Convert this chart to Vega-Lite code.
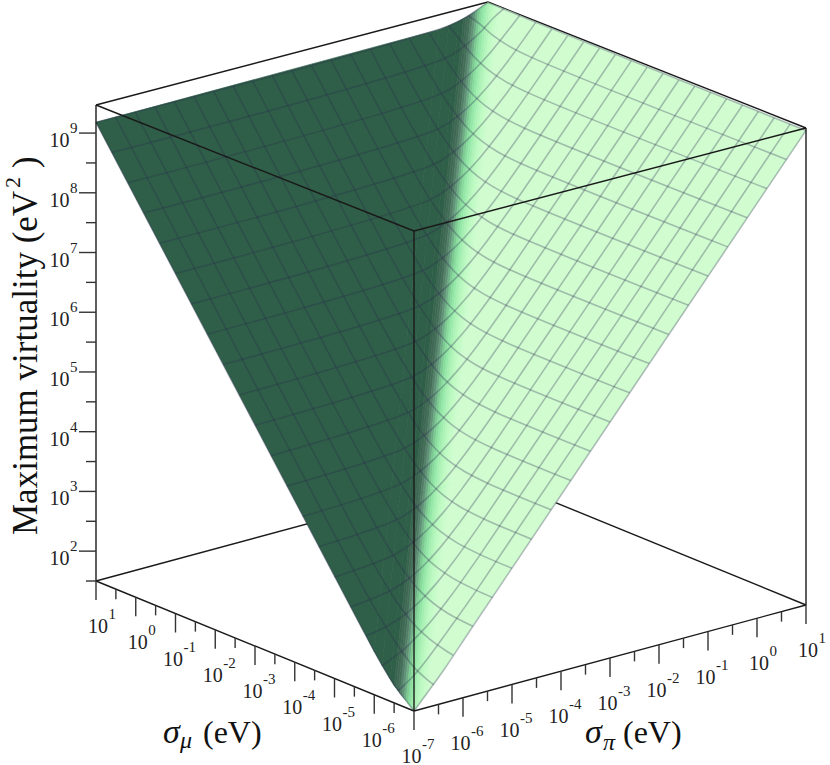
{"$schema":"https://vega.github.io/schema/vega-lite/v6.json","width":830,"height":765,"padding":0,"autosize":"none","background":"white","config":{"view":{"stroke":null}},
"data":{"values":[
{"set":"bb","id":1,"i":0,"mu":1,"pi":-7,"v":1.5},{"set":"bb","id":1,"i":1,"mu":1,"pi":1,"v":1.5},
{"set":"bb","id":2,"i":0,"mu":-7,"pi":1,"v":1.5},{"set":"bb","id":2,"i":1,"mu":1,"pi":1,"v":1.5},
{"set":"bb","id":3,"i":0,"mu":1,"pi":-7,"v":9.47},{"set":"bb","id":3,"i":1,"mu":1,"pi":1,"v":9.47},
{"set":"bb","id":4,"i":0,"mu":-7,"pi":1,"v":9.47},{"set":"bb","id":4,"i":1,"mu":1,"pi":1,"v":9.47},
{"set":"bf","id":1,"i":0,"mu":-7,"pi":-7,"v":1.5},{"set":"bf","id":1,"i":1,"mu":1,"pi":-7,"v":1.5},
{"set":"bf","id":2,"i":0,"mu":-7,"pi":-7,"v":1.5},{"set":"bf","id":2,"i":1,"mu":-7,"pi":1,"v":1.5},
{"set":"bf","id":3,"i":0,"mu":-7,"pi":-7,"v":1.5},{"set":"bf","id":3,"i":1,"mu":-7,"pi":-7,"v":9.47},
{"set":"bf","id":4,"i":0,"mu":1,"pi":-7,"v":1.5},{"set":"bf","id":4,"i":1,"mu":1,"pi":-7,"v":9.47},
{"set":"bf","id":5,"i":0,"mu":-7,"pi":1,"v":1.5},{"set":"bf","id":5,"i":1,"mu":-7,"pi":1,"v":9.47},
{"set":"bf","id":6,"i":0,"mu":-7,"pi":-7,"v":9.47},{"set":"bf","id":6,"i":1,"mu":1,"pi":-7,"v":9.47},
{"set":"bf","id":7,"i":0,"mu":-7,"pi":-7,"v":9.47},{"set":"bf","id":7,"i":1,"mu":-7,"pi":1,"v":9.47},

{"set":"b","d":2,"i":0,"mu":-6,"pi":-7,"v":2.22},{"set":"b","d":2,"i":1,"mu":1,"pi":-7,"v":9.18},{"set":"b","d":2,"i":2,"mu":1,"pi":0,"v":9.2214},
{"set":"b","d":0.9,"i":0,"mu":-6,"pi":-7,"v":2.22},{"set":"b","d":0.9,"i":1,"mu":-6.2,"pi":-7,"v":2.04},{"set":"b","d":0.9,"i":2,"mu":1,"pi":0.2,"v":9.2439},{"set":"b","d":0.9,"i":3,"mu":1,"pi":0,"v":9.2214},
{"set":"b","d":0.7,"i":0,"mu":-6.2,"pi":-7,"v":2.04},{"set":"b","d":0.7,"i":1,"mu":-6.4,"pi":-7,"v":1.87},{"set":"b","d":0.7,"i":2,"mu":1,"pi":0.4,"v":9.2773},{"set":"b","d":0.7,"i":3,"mu":1,"pi":0.2,"v":9.2439},
{"set":"b","d":0.55,"i":0,"mu":-6.4,"pi":-7,"v":1.87},{"set":"b","d":0.55,"i":1,"mu":-6.5,"pi":-7,"v":1.79},{"set":"b","d":0.55,"i":2,"mu":1,"pi":0.5,"v":9.2993},{"set":"b","d":0.55,"i":3,"mu":1,"pi":0.4,"v":9.2773},
{"set":"b","d":0.475,"i":0,"mu":-6.5,"pi":-7,"v":1.79},{"set":"b","d":0.475,"i":1,"mu":-6.55,"pi":-7,"v":1.76},{"set":"b","d":0.475,"i":2,"mu":1,"pi":0.55,"v":9.3119},{"set":"b","d":0.475,"i":3,"mu":1,"pi":0.5,"v":9.2993},
{"set":"b","d":0.425,"i":0,"mu":-6.55,"pi":-7,"v":1.76},{"set":"b","d":0.425,"i":1,"mu":-6.6,"pi":-7,"v":1.73},{"set":"b","d":0.425,"i":2,"mu":1,"pi":0.6,"v":9.3255},{"set":"b","d":0.425,"i":3,"mu":1,"pi":0.55,"v":9.3119},
{"set":"b","d":0.375,"i":0,"mu":-6.6,"pi":-7,"v":1.73},{"set":"b","d":0.375,"i":1,"mu":-6.65,"pi":-7,"v":1.7},{"set":"b","d":0.375,"i":2,"mu":1,"pi":0.65,"v":9.3404},{"set":"b","d":0.375,"i":3,"mu":1,"pi":0.6,"v":9.3255},
{"set":"b","d":0.325,"i":0,"mu":-6.65,"pi":-7,"v":1.7},{"set":"b","d":0.325,"i":1,"mu":-6.7,"pi":-7,"v":1.67},{"set":"b","d":0.325,"i":2,"mu":1,"pi":0.7,"v":9.3564},{"set":"b","d":0.325,"i":3,"mu":1,"pi":0.65,"v":9.3404},
{"set":"b","d":0.275,"i":0,"mu":-6.7,"pi":-7,"v":1.67},{"set":"b","d":0.275,"i":1,"mu":-6.75,"pi":-7,"v":1.645},{"set":"b","d":0.275,"i":2,"mu":1,"pi":0.75,"v":9.3738},{"set":"b","d":0.275,"i":3,"mu":1,"pi":0.7,"v":9.3564},
{"set":"b","d":0.225,"i":0,"mu":-6.75,"pi":-7,"v":1.645},{"set":"b","d":0.225,"i":1,"mu":-6.8,"pi":-7,"v":1.62},{"set":"b","d":0.225,"i":2,"mu":1,"pi":0.8,"v":9.3924},{"set":"b","d":0.225,"i":3,"mu":1,"pi":0.75,"v":9.3738},
{"set":"b","d":0.175,"i":0,"mu":-6.8,"pi":-7,"v":1.62},{"set":"b","d":0.175,"i":1,"mu":-6.85,"pi":-7,"v":1.59},{"set":"b","d":0.175,"i":2,"mu":1,"pi":0.85,"v":9.4125},{"set":"b","d":0.175,"i":3,"mu":1,"pi":0.8,"v":9.3924},
{"set":"b","d":0.125,"i":0,"mu":-6.85,"pi":-7,"v":1.59},{"set":"b","d":0.125,"i":1,"mu":-6.9,"pi":-7,"v":1.56},{"set":"b","d":0.125,"i":2,"mu":1,"pi":0.9,"v":9.4339},{"set":"b","d":0.125,"i":3,"mu":1,"pi":0.85,"v":9.4125},
{"set":"b","d":0.075,"i":0,"mu":-6.9,"pi":-7,"v":1.56},{"set":"b","d":0.075,"i":1,"mu":-6.95,"pi":-7,"v":1.53},{"set":"b","d":0.075,"i":2,"mu":1,"pi":0.95,"v":9.442},{"set":"b","d":0.075,"i":3,"mu":1,"pi":0.9,"v":9.4339},
{"set":"b","d":0.025,"i":0,"mu":-6.95,"pi":-7,"v":1.53},{"set":"b","d":0.025,"i":1,"mu":-7,"pi":-7,"v":1.5},{"set":"b","d":0.025,"i":2,"mu":1,"pi":1,"v":9.46},{"set":"b","d":0.025,"i":3,"mu":1,"pi":0.95,"v":9.442},
{"set":"b","d":-0.025,"i":0,"mu":-7,"pi":-7,"v":1.5},{"set":"b","d":-0.025,"i":1,"mu":-7,"pi":-6.95,"v":1.55},{"set":"b","d":-0.025,"i":2,"mu":0.95,"pi":1,"v":9.46},{"set":"b","d":-0.025,"i":3,"mu":1,"pi":1,"v":9.46},
{"set":"b","d":-0.075,"i":0,"mu":-7,"pi":-6.95,"v":1.55},{"set":"b","d":-0.075,"i":1,"mu":-7,"pi":-6.9,"v":1.59},{"set":"b","d":-0.075,"i":2,"mu":0.9,"pi":1,"v":9.46},{"set":"b","d":-0.075,"i":3,"mu":0.95,"pi":1,"v":9.46},
{"set":"b","d":-0.125,"i":0,"mu":-7,"pi":-6.9,"v":1.59},{"set":"b","d":-0.125,"i":1,"mu":-7,"pi":-6.85,"v":1.63},{"set":"b","d":-0.125,"i":2,"mu":0.85,"pi":1,"v":9.46},{"set":"b","d":-0.125,"i":3,"mu":0.9,"pi":1,"v":9.46},
{"set":"b","d":-0.175,"i":0,"mu":-7,"pi":-6.85,"v":1.63},{"set":"b","d":-0.175,"i":1,"mu":-7,"pi":-6.8,"v":1.68},{"set":"b","d":-0.175,"i":2,"mu":0.8,"pi":1,"v":9.46},{"set":"b","d":-0.175,"i":3,"mu":0.85,"pi":1,"v":9.46},
{"set":"b","d":-0.225,"i":0,"mu":-7,"pi":-6.8,"v":1.68},{"set":"b","d":-0.225,"i":1,"mu":-7,"pi":-6.75,"v":1.72},{"set":"b","d":-0.225,"i":2,"mu":0.75,"pi":1,"v":9.46},{"set":"b","d":-0.225,"i":3,"mu":0.8,"pi":1,"v":9.46},
{"set":"b","d":-0.275,"i":0,"mu":-7,"pi":-6.75,"v":1.72},{"set":"b","d":-0.275,"i":1,"mu":-7,"pi":-6.7,"v":1.77},{"set":"b","d":-0.275,"i":2,"mu":0.7,"pi":1,"v":9.46},{"set":"b","d":-0.275,"i":3,"mu":0.75,"pi":1,"v":9.46},
{"set":"b","d":-0.35,"i":0,"mu":-7,"pi":-6.7,"v":1.77},{"set":"b","d":-0.35,"i":1,"mu":-7,"pi":-6.6,"v":1.85},{"set":"b","d":-0.35,"i":2,"mu":0.6,"pi":1,"v":9.46},{"set":"b","d":-0.35,"i":3,"mu":0.7,"pi":1,"v":9.46},
{"set":"b","d":-0.5,"i":0,"mu":-7,"pi":-6.6,"v":1.85},{"set":"b","d":-0.5,"i":1,"mu":-7,"pi":-6.4,"v":2.04},{"set":"b","d":-0.5,"i":2,"mu":0.4,"pi":1,"v":9.46},{"set":"b","d":-0.5,"i":3,"mu":0.6,"pi":1,"v":9.46},
{"set":"b","d":-0.8,"i":0,"mu":-7,"pi":-6.4,"v":2.04},{"set":"b","d":-0.8,"i":1,"mu":-7,"pi":-6,"v":2.45},{"set":"b","d":-0.8,"i":2,"mu":0,"pi":1,"v":9.45},{"set":"b","d":-0.8,"i":3,"mu":0.4,"pi":1,"v":9.46},
{"set":"b","d":-2,"i":0,"mu":-7,"pi":-6,"v":2.45},{"set":"b","d":-2,"i":1,"mu":-7,"pi":1,"v":9.43},{"set":"b","d":-2,"i":2,"mu":0,"pi":1,"v":9.45},

{"set":"g","mu":-7,"pi":-7,"v":1.5},{"set":"g","mu":-7,"pi":-6.8,"v":1.68},{"set":"g","mu":-7,"pi":-6.4,"v":2.04},{"set":"g","mu":-7,"pi":-5.8,"v":2.64},{"set":"g","mu":-7,"pi":1,"v":9.43},
{"set":"g","mu":-6.6,"pi":-7,"v":1.73},{"set":"g","mu":-6.6,"pi":-6.7,"v":1.9},{"set":"g","mu":-6.6,"pi":-6.4,"v":2.13},{"set":"g","mu":-6.6,"pi":-6,"v":2.4874},{"set":"g","mu":-6.6,"pi":-5.4,"v":3.0451},{"set":"g","mu":-6.6,"pi":1,"v":9.43},
{"set":"g","mu":-6.2,"pi":-7,"v":2.04},{"set":"g","mu":-6.2,"pi":-6.6,"v":2.19},{"set":"g","mu":-6.2,"pi":-6.3,"v":2.3625},{"set":"g","mu":-6.2,"pi":-6,"v":2.5619},{"set":"g","mu":-6.2,"pi":-5.6,"v":2.8874},{"set":"g","mu":-6.2,"pi":-5,"v":3.4451},{"set":"g","mu":-6.2,"pi":1,"v":9.43},
{"set":"g","mu":-5.8,"pi":-7,"v":2.4262},{"set":"g","mu":-5.8,"pi":-6.6,"v":2.4878},{"set":"g","mu":-5.8,"pi":-6.2,"v":2.6125},{"set":"g","mu":-5.8,"pi":-5.9,"v":2.7625},{"set":"g","mu":-5.8,"pi":-5.6,"v":2.9619},{"set":"g","mu":-5.8,"pi":-5.2,"v":3.2874},{"set":"g","mu":-5.8,"pi":-4.6,"v":3.8451},{"set":"g","mu":-5.8,"pi":1,"v":9.43},
{"set":"g","mu":-5.4,"pi":-7,"v":2.799},{"set":"g","mu":-5.4,"pi":-6.2,"v":2.8878},{"set":"g","mu":-5.4,"pi":-5.8,"v":3.0125},{"set":"g","mu":-5.4,"pi":-5.5,"v":3.1625},{"set":"g","mu":-5.4,"pi":-5.2,"v":3.3619},{"set":"g","mu":-5.4,"pi":-4.8,"v":3.6874},{"set":"g","mu":-5.4,"pi":-4.2,"v":4.2451},{"set":"g","mu":-5.4,"pi":1,"v":9.43},
{"set":"g","mu":-5,"pi":-7,"v":3.1876},{"set":"g","mu":-5,"pi":-5.8,"v":3.2878},{"set":"g","mu":-5,"pi":-5.4,"v":3.4125},{"set":"g","mu":-5,"pi":-5.1,"v":3.5625},{"set":"g","mu":-5,"pi":-4.8,"v":3.7619},{"set":"g","mu":-5,"pi":-4.4,"v":4.0874},{"set":"g","mu":-5,"pi":-3.8,"v":4.6451},{"set":"g","mu":-5,"pi":1,"v":9.43},
{"set":"g","mu":-4.6,"pi":-7,"v":3.5831},{"set":"g","mu":-4.6,"pi":-5.4,"v":3.6878},{"set":"g","mu":-4.6,"pi":-5,"v":3.8125},{"set":"g","mu":-4.6,"pi":-4.7,"v":3.9625},{"set":"g","mu":-4.6,"pi":-4.4,"v":4.1619},{"set":"g","mu":-4.6,"pi":-4,"v":4.4874},{"set":"g","mu":-4.6,"pi":-3.4,"v":5.0451},{"set":"g","mu":-4.6,"pi":1,"v":9.43},
{"set":"g","mu":-4.2,"pi":-7,"v":3.9812},{"set":"g","mu":-4.2,"pi":-5,"v":4.0878},{"set":"g","mu":-4.2,"pi":-4.6,"v":4.2125},{"set":"g","mu":-4.2,"pi":-4.3,"v":4.3625},{"set":"g","mu":-4.2,"pi":-4,"v":4.5619},{"set":"g","mu":-4.2,"pi":-3.6,"v":4.8874},{"set":"g","mu":-4.2,"pi":-3,"v":5.4451},{"set":"g","mu":-4.2,"pi":1,"v":9.43},
{"set":"g","mu":-3.8,"pi":-7,"v":4.38},{"set":"g","mu":-3.8,"pi":-4.6,"v":4.4878},{"set":"g","mu":-3.8,"pi":-4.2,"v":4.6125},{"set":"g","mu":-3.8,"pi":-3.9,"v":4.7625},{"set":"g","mu":-3.8,"pi":-3.6,"v":4.9619},{"set":"g","mu":-3.8,"pi":-3.2,"v":5.2874},{"set":"g","mu":-3.8,"pi":-2.6,"v":5.8451},{"set":"g","mu":-3.8,"pi":1,"v":9.43},
{"set":"g","mu":-3.4,"pi":-7,"v":4.78},{"set":"g","mu":-3.4,"pi":-4.2,"v":4.8878},{"set":"g","mu":-3.4,"pi":-3.8,"v":5.0125},{"set":"g","mu":-3.4,"pi":-3.5,"v":5.1625},{"set":"g","mu":-3.4,"pi":-3.2,"v":5.3619},{"set":"g","mu":-3.4,"pi":-2.8,"v":5.6874},{"set":"g","mu":-3.4,"pi":-2.2,"v":6.2451},{"set":"g","mu":-3.4,"pi":1,"v":9.43},
{"set":"g","mu":-3,"pi":-7,"v":5.18},{"set":"g","mu":-3,"pi":-3.8,"v":5.2878},{"set":"g","mu":-3,"pi":-3.4,"v":5.4125},{"set":"g","mu":-3,"pi":-3.1,"v":5.5625},{"set":"g","mu":-3,"pi":-2.8,"v":5.7619},{"set":"g","mu":-3,"pi":-2.4,"v":6.0874},{"set":"g","mu":-3,"pi":-1.8,"v":6.6451},{"set":"g","mu":-3,"pi":1,"v":9.43},
{"set":"g","mu":-2.6,"pi":-7,"v":5.58},{"set":"g","mu":-2.6,"pi":-3.4,"v":5.6878},{"set":"g","mu":-2.6,"pi":-3,"v":5.8125},{"set":"g","mu":-2.6,"pi":-2.7,"v":5.9625},{"set":"g","mu":-2.6,"pi":-2.4,"v":6.1619},{"set":"g","mu":-2.6,"pi":-2,"v":6.4874},{"set":"g","mu":-2.6,"pi":-1.4,"v":7.0451},{"set":"g","mu":-2.6,"pi":1,"v":9.43},
{"set":"g","mu":-2.2,"pi":-7,"v":5.98},{"set":"g","mu":-2.2,"pi":-3,"v":6.0878},{"set":"g","mu":-2.2,"pi":-2.6,"v":6.2125},{"set":"g","mu":-2.2,"pi":-2.3,"v":6.3625},{"set":"g","mu":-2.2,"pi":-2,"v":6.5619},{"set":"g","mu":-2.2,"pi":-1.6,"v":6.8874},{"set":"g","mu":-2.2,"pi":-1,"v":7.4451},{"set":"g","mu":-2.2,"pi":1,"v":9.43},
{"set":"g","mu":-1.8,"pi":-7,"v":6.38},{"set":"g","mu":-1.8,"pi":-2.6,"v":6.4878},{"set":"g","mu":-1.8,"pi":-2.2,"v":6.6125},{"set":"g","mu":-1.8,"pi":-1.9,"v":6.7625},{"set":"g","mu":-1.8,"pi":-1.6,"v":6.9619},{"set":"g","mu":-1.8,"pi":-1.2,"v":7.2874},{"set":"g","mu":-1.8,"pi":-0.6,"v":7.8451},{"set":"g","mu":-1.8,"pi":1,"v":9.43},
{"set":"g","mu":-1.4,"pi":-7,"v":6.78},{"set":"g","mu":-1.4,"pi":-2.2,"v":6.8878},{"set":"g","mu":-1.4,"pi":-1.8,"v":7.0125},{"set":"g","mu":-1.4,"pi":-1.5,"v":7.1625},{"set":"g","mu":-1.4,"pi":-1.2,"v":7.3619},{"set":"g","mu":-1.4,"pi":-0.8,"v":7.6874},{"set":"g","mu":-1.4,"pi":-0.2,"v":8.2451},{"set":"g","mu":-1.4,"pi":1,"v":9.43},
{"set":"g","mu":-1,"pi":-7,"v":7.18},{"set":"g","mu":-1,"pi":-1.8,"v":7.2878},{"set":"g","mu":-1,"pi":-1.4,"v":7.4125},{"set":"g","mu":-1,"pi":-1.1,"v":7.5625},{"set":"g","mu":-1,"pi":-0.8,"v":7.7619},{"set":"g","mu":-1,"pi":-0.4,"v":8.0874},{"set":"g","mu":-1,"pi":0.2,"v":8.6451},{"set":"g","mu":-1,"pi":1,"v":9.43},
{"set":"g","mu":-0.6,"pi":-7,"v":7.58},{"set":"g","mu":-0.6,"pi":-1.4,"v":7.6878},{"set":"g","mu":-0.6,"pi":-1,"v":7.8125},{"set":"g","mu":-0.6,"pi":-0.7,"v":7.9625},{"set":"g","mu":-0.6,"pi":-0.4,"v":8.1619},{"set":"g","mu":-0.6,"pi":0,"v":8.4874},{"set":"g","mu":-0.6,"pi":0.6,"v":9.0451},{"set":"g","mu":-0.6,"pi":1,"v":9.436},
{"set":"g","mu":-0.2,"pi":-7,"v":7.98},{"set":"g","mu":-0.2,"pi":-1,"v":8.0878},{"set":"g","mu":-0.2,"pi":-0.6,"v":8.2125},{"set":"g","mu":-0.2,"pi":-0.3,"v":8.3625},{"set":"g","mu":-0.2,"pi":0,"v":8.5619},{"set":"g","mu":-0.2,"pi":0.4,"v":8.8874},{"set":"g","mu":-0.2,"pi":1,"v":9.445},
{"set":"g","mu":0.2,"pi":-7,"v":8.38},{"set":"g","mu":0.2,"pi":-0.6,"v":8.4878},{"set":"g","mu":0.2,"pi":-0.2,"v":8.6125},{"set":"g","mu":0.2,"pi":0.1,"v":8.7625},{"set":"g","mu":0.2,"pi":0.4,"v":8.9619},{"set":"g","mu":0.2,"pi":0.8,"v":9.2874},{"set":"g","mu":0.2,"pi":1,"v":9.46},
{"set":"g","mu":0.6,"pi":-7,"v":8.78},{"set":"g","mu":0.6,"pi":-0.2,"v":8.8878},{"set":"g","mu":0.6,"pi":0.2,"v":9.0125},{"set":"g","mu":0.6,"pi":0.5,"v":9.1625},{"set":"g","mu":0.6,"pi":0.8,"v":9.3619},{"set":"g","mu":0.6,"pi":1,"v":9.465},
{"set":"g","mu":1,"pi":-7,"v":9.18},{"set":"g","mu":1,"pi":0.2,"v":9.2439},{"set":"g","mu":1,"pi":0.6,"v":9.3255},{"set":"g","mu":1,"pi":0.85,"v":9.4125},{"set":"g","mu":1,"pi":1,"v":9.46},

{"set":"h","pi":-7,"mu":-7,"v":1.5},{"set":"h","pi":-7,"mu":-6.9,"v":1.56},{"set":"h","pi":-7,"mu":-6.6,"v":1.73},{"set":"h","pi":-7,"mu":-6.2,"v":2.04},{"set":"h","pi":-7,"mu":-5.6,"v":2.6097},{"set":"h","pi":-7,"mu":1,"v":9.18},
{"set":"h","pi":-6.6,"mu":-7,"v":1.85},{"set":"h","pi":-6.6,"mu":-6.8,"v":1.9},{"set":"h","pi":-6.6,"mu":-6.5,"v":2.01},{"set":"h","pi":-6.6,"mu":-6.2,"v":2.19},{"set":"h","pi":-6.6,"mu":-5.8,"v":2.4878},{"set":"h","pi":-6.6,"mu":-5.2,"v":3.0097},{"set":"h","pi":-6.6,"mu":1,"v":9.18},
{"set":"h","pi":-6.2,"mu":-7,"v":2.25},{"set":"h","pi":-6.2,"mu":-6.8,"v":2.28},{"set":"h","pi":-6.2,"mu":-6.4,"v":2.3619},{"set":"h","pi":-6.2,"mu":-6.1,"v":2.4625},{"set":"h","pi":-6.2,"mu":-5.8,"v":2.6125},{"set":"h","pi":-6.2,"mu":-5.4,"v":2.8878},{"set":"h","pi":-6.2,"mu":-4.8,"v":3.4097},{"set":"h","pi":-6.2,"mu":1,"v":9.18},
{"set":"h","pi":-5.8,"mu":-7,"v":2.6451},{"set":"h","pi":-5.8,"mu":-6.4,"v":2.6874},{"set":"h","pi":-5.8,"mu":-6,"v":2.7619},{"set":"h","pi":-5.8,"mu":-5.7,"v":2.8625},{"set":"h","pi":-5.8,"mu":-5.4,"v":3.0125},{"set":"h","pi":-5.8,"mu":-5,"v":3.2878},{"set":"h","pi":-5.8,"mu":-4.4,"v":3.8097},{"set":"h","pi":-5.8,"mu":1,"v":9.18},
{"set":"h","pi":-5.4,"mu":-7,"v":3.0361},{"set":"h","pi":-5.4,"mu":-6.6,"v":3.0451},{"set":"h","pi":-5.4,"mu":-6,"v":3.0874},{"set":"h","pi":-5.4,"mu":-5.6,"v":3.1619},{"set":"h","pi":-5.4,"mu":-5.3,"v":3.2625},{"set":"h","pi":-5.4,"mu":-5,"v":3.4125},{"set":"h","pi":-5.4,"mu":-4.6,"v":3.6878},{"set":"h","pi":-5.4,"mu":-4,"v":4.2097},{"set":"h","pi":-5.4,"mu":1,"v":9.18},
{"set":"h","pi":-5,"mu":-7,"v":3.4324},{"set":"h","pi":-5,"mu":-6.2,"v":3.4451},{"set":"h","pi":-5,"mu":-5.6,"v":3.4874},{"set":"h","pi":-5,"mu":-5.2,"v":3.5619},{"set":"h","pi":-5,"mu":-4.9,"v":3.6625},{"set":"h","pi":-5,"mu":-4.6,"v":3.8125},{"set":"h","pi":-5,"mu":-4.2,"v":4.0878},{"set":"h","pi":-5,"mu":-3.6,"v":4.6097},{"set":"h","pi":-5,"mu":1,"v":9.18},
{"set":"h","pi":-4.6,"mu":-7,"v":3.83},{"set":"h","pi":-4.6,"mu":-5.8,"v":3.8451},{"set":"h","pi":-4.6,"mu":-5.2,"v":3.8874},{"set":"h","pi":-4.6,"mu":-4.8,"v":3.9619},{"set":"h","pi":-4.6,"mu":-4.5,"v":4.0625},{"set":"h","pi":-4.6,"mu":-4.2,"v":4.2125},{"set":"h","pi":-4.6,"mu":-3.8,"v":4.4878},{"set":"h","pi":-4.6,"mu":-3.2,"v":5.0097},{"set":"h","pi":-4.6,"mu":1,"v":9.18},
{"set":"h","pi":-4.2,"mu":-7,"v":4.23},{"set":"h","pi":-4.2,"mu":-5.4,"v":4.2451},{"set":"h","pi":-4.2,"mu":-4.8,"v":4.2874},{"set":"h","pi":-4.2,"mu":-4.4,"v":4.3619},{"set":"h","pi":-4.2,"mu":-4.1,"v":4.4625},{"set":"h","pi":-4.2,"mu":-3.8,"v":4.6125},{"set":"h","pi":-4.2,"mu":-3.4,"v":4.8878},{"set":"h","pi":-4.2,"mu":-2.8,"v":5.4097},{"set":"h","pi":-4.2,"mu":1,"v":9.18},
{"set":"h","pi":-3.8,"mu":-7,"v":4.63},{"set":"h","pi":-3.8,"mu":-5,"v":4.6451},{"set":"h","pi":-3.8,"mu":-4.4,"v":4.6874},{"set":"h","pi":-3.8,"mu":-4,"v":4.7619},{"set":"h","pi":-3.8,"mu":-3.7,"v":4.8625},{"set":"h","pi":-3.8,"mu":-3.4,"v":5.0125},{"set":"h","pi":-3.8,"mu":-3,"v":5.2878},{"set":"h","pi":-3.8,"mu":-2.4,"v":5.8097},{"set":"h","pi":-3.8,"mu":1,"v":9.18},
{"set":"h","pi":-3.4,"mu":-7,"v":5.03},{"set":"h","pi":-3.4,"mu":-4.6,"v":5.0451},{"set":"h","pi":-3.4,"mu":-4,"v":5.0874},{"set":"h","pi":-3.4,"mu":-3.6,"v":5.1619},{"set":"h","pi":-3.4,"mu":-3.3,"v":5.2625},{"set":"h","pi":-3.4,"mu":-3,"v":5.4125},{"set":"h","pi":-3.4,"mu":-2.6,"v":5.6878},{"set":"h","pi":-3.4,"mu":-2,"v":6.2097},{"set":"h","pi":-3.4,"mu":1,"v":9.18},
{"set":"h","pi":-3,"mu":-7,"v":5.43},{"set":"h","pi":-3,"mu":-4.2,"v":5.4451},{"set":"h","pi":-3,"mu":-3.6,"v":5.4874},{"set":"h","pi":-3,"mu":-3.2,"v":5.5619},{"set":"h","pi":-3,"mu":-2.9,"v":5.6625},{"set":"h","pi":-3,"mu":-2.6,"v":5.8125},{"set":"h","pi":-3,"mu":-2.2,"v":6.0878},{"set":"h","pi":-3,"mu":-1.6,"v":6.6097},{"set":"h","pi":-3,"mu":1,"v":9.18},
{"set":"h","pi":-2.6,"mu":-7,"v":5.83},{"set":"h","pi":-2.6,"mu":-3.8,"v":5.8451},{"set":"h","pi":-2.6,"mu":-3.2,"v":5.8874},{"set":"h","pi":-2.6,"mu":-2.8,"v":5.9619},{"set":"h","pi":-2.6,"mu":-2.5,"v":6.0625},{"set":"h","pi":-2.6,"mu":-2.2,"v":6.2125},{"set":"h","pi":-2.6,"mu":-1.8,"v":6.4878},{"set":"h","pi":-2.6,"mu":-1.2,"v":7.0097},{"set":"h","pi":-2.6,"mu":1,"v":9.18},
{"set":"h","pi":-2.2,"mu":-7,"v":6.23},{"set":"h","pi":-2.2,"mu":-3.4,"v":6.2451},{"set":"h","pi":-2.2,"mu":-2.8,"v":6.2874},{"set":"h","pi":-2.2,"mu":-2.4,"v":6.3619},{"set":"h","pi":-2.2,"mu":-2.1,"v":6.4625},{"set":"h","pi":-2.2,"mu":-1.8,"v":6.6125},{"set":"h","pi":-2.2,"mu":-1.4,"v":6.8878},{"set":"h","pi":-2.2,"mu":-0.8,"v":7.4097},{"set":"h","pi":-2.2,"mu":1,"v":9.18},
{"set":"h","pi":-1.8,"mu":-7,"v":6.63},{"set":"h","pi":-1.8,"mu":-3,"v":6.6451},{"set":"h","pi":-1.8,"mu":-2.4,"v":6.6874},{"set":"h","pi":-1.8,"mu":-2,"v":6.7619},{"set":"h","pi":-1.8,"mu":-1.7,"v":6.8625},{"set":"h","pi":-1.8,"mu":-1.4,"v":7.0125},{"set":"h","pi":-1.8,"mu":-1,"v":7.2878},{"set":"h","pi":-1.8,"mu":-0.4,"v":7.8097},{"set":"h","pi":-1.8,"mu":1,"v":9.19},
{"set":"h","pi":-1.4,"mu":-7,"v":7.03},{"set":"h","pi":-1.4,"mu":-2.6,"v":7.0451},{"set":"h","pi":-1.4,"mu":-2,"v":7.0874},{"set":"h","pi":-1.4,"mu":-1.6,"v":7.1619},{"set":"h","pi":-1.4,"mu":-1.3,"v":7.2625},{"set":"h","pi":-1.4,"mu":-1,"v":7.4125},{"set":"h","pi":-1.4,"mu":-0.6,"v":7.6878},{"set":"h","pi":-1.4,"mu":0,"v":8.2097},{"set":"h","pi":-1.4,"mu":1,"v":9.19},
{"set":"h","pi":-1,"mu":-7,"v":7.43},{"set":"h","pi":-1,"mu":-2.2,"v":7.4451},{"set":"h","pi":-1,"mu":-1.6,"v":7.4874},{"set":"h","pi":-1,"mu":-1.2,"v":7.5619},{"set":"h","pi":-1,"mu":-0.9,"v":7.6625},{"set":"h","pi":-1,"mu":-0.6,"v":7.8125},{"set":"h","pi":-1,"mu":-0.2,"v":8.0878},{"set":"h","pi":-1,"mu":0.4,"v":8.6097},{"set":"h","pi":-1,"mu":1,"v":9.195},
{"set":"h","pi":-0.6,"mu":-7,"v":7.83},{"set":"h","pi":-0.6,"mu":-1.8,"v":7.8451},{"set":"h","pi":-0.6,"mu":-1.2,"v":7.8874},{"set":"h","pi":-0.6,"mu":-0.8,"v":7.9619},{"set":"h","pi":-0.6,"mu":-0.5,"v":8.0625},{"set":"h","pi":-0.6,"mu":-0.2,"v":8.2125},{"set":"h","pi":-0.6,"mu":0.2,"v":8.4878},{"set":"h","pi":-0.6,"mu":0.8,"v":9.0097},{"set":"h","pi":-0.6,"mu":1,"v":9.2},
{"set":"h","pi":-0.2,"mu":-7,"v":8.23},{"set":"h","pi":-0.2,"mu":-1.4,"v":8.2451},{"set":"h","pi":-0.2,"mu":-0.8,"v":8.2874},{"set":"h","pi":-0.2,"mu":-0.4,"v":8.3619},{"set":"h","pi":-0.2,"mu":-0.1,"v":8.4625},{"set":"h","pi":-0.2,"mu":0.2,"v":8.6125},{"set":"h","pi":-0.2,"mu":0.6,"v":8.8878},{"set":"h","pi":-0.2,"mu":1,"v":9.2066},
{"set":"h","pi":0.2,"mu":-7,"v":8.63},{"set":"h","pi":0.2,"mu":-1,"v":8.6451},{"set":"h","pi":0.2,"mu":-0.4,"v":8.6874},{"set":"h","pi":0.2,"mu":0,"v":8.7619},{"set":"h","pi":0.2,"mu":0.3,"v":8.8625},{"set":"h","pi":0.2,"mu":0.6,"v":9.0125},{"set":"h","pi":0.2,"mu":1,"v":9.2439},
{"set":"h","pi":0.6,"mu":-7,"v":9.03},{"set":"h","pi":0.6,"mu":-0.6,"v":9.0451},{"set":"h","pi":0.6,"mu":0,"v":9.0874},{"set":"h","pi":0.6,"mu":0.4,"v":9.1619},{"set":"h","pi":0.6,"mu":0.7,"v":9.26},{"set":"h","pi":0.6,"mu":1,"v":9.3255},
{"set":"h","pi":1,"mu":-7,"v":9.43},{"set":"h","pi":1,"mu":0,"v":9.45},{"set":"h","pi":1,"mu":1,"v":9.46},

{"set":"tz","mu":1,"pi":-7,"v":1.5,"major":0},{"set":"tz","mu":1,"pi":-7,"v":2,"major":1,"exp":"2"},{"set":"tz","mu":1,"pi":-7,"v":2.5,"major":0},{"set":"tz","mu":1,"pi":-7,"v":3,"major":1,"exp":"3"},{"set":"tz","mu":1,"pi":-7,"v":3.5,"major":0},{"set":"tz","mu":1,"pi":-7,"v":4,"major":1,"exp":"4"},{"set":"tz","mu":1,"pi":-7,"v":4.5,"major":0},{"set":"tz","mu":1,"pi":-7,"v":5,"major":1,"exp":"5"},{"set":"tz","mu":1,"pi":-7,"v":5.5,"major":0},{"set":"tz","mu":1,"pi":-7,"v":6,"major":1,"exp":"6"},{"set":"tz","mu":1,"pi":-7,"v":6.5,"major":0},{"set":"tz","mu":1,"pi":-7,"v":7,"major":1,"exp":"7"},{"set":"tz","mu":1,"pi":-7,"v":7.5,"major":0},{"set":"tz","mu":1,"pi":-7,"v":8,"major":1,"exp":"8"},{"set":"tz","mu":1,"pi":-7,"v":8.5,"major":0},{"set":"tz","mu":1,"pi":-7,"v":9,"major":1,"exp":"9"},

{"set":"tx","mu":1,"pi":-7,"v":1.5,"major":1,"exp":"1"},{"set":"tx","mu":0.5,"pi":-7,"v":1.5,"major":0},{"set":"tx","mu":0,"pi":-7,"v":1.5,"major":1,"exp":"0"},{"set":"tx","mu":-0.5,"pi":-7,"v":1.5,"major":0},{"set":"tx","mu":-1,"pi":-7,"v":1.5,"major":1,"exp":"-1"},{"set":"tx","mu":-1.5,"pi":-7,"v":1.5,"major":0},{"set":"tx","mu":-2,"pi":-7,"v":1.5,"major":1,"exp":"-2"},{"set":"tx","mu":-2.5,"pi":-7,"v":1.5,"major":0},{"set":"tx","mu":-3,"pi":-7,"v":1.5,"major":1,"exp":"-3"},{"set":"tx","mu":-3.5,"pi":-7,"v":1.5,"major":0},{"set":"tx","mu":-4,"pi":-7,"v":1.5,"major":1,"exp":"-4"},{"set":"tx","mu":-4.5,"pi":-7,"v":1.5,"major":0},{"set":"tx","mu":-5,"pi":-7,"v":1.5,"major":1,"exp":"-5"},{"set":"tx","mu":-5.5,"pi":-7,"v":1.5,"major":0},{"set":"tx","mu":-6,"pi":-7,"v":1.5,"major":1,"exp":"-6"},{"set":"tx","mu":-6.5,"pi":-7,"v":1.5,"major":0},{"set":"tx","mu":-7,"pi":-7,"v":1.5,"major":1,"exp":"-7"},
{"set":"tx","mu":-7,"pi":-6.5,"v":1.5,"major":0},{"set":"tx","mu":-7,"pi":-6,"v":1.5,"major":1,"exp":"-6"},{"set":"tx","mu":-7,"pi":-5.5,"v":1.5,"major":0},{"set":"tx","mu":-7,"pi":-5,"v":1.5,"major":1,"exp":"-5"},{"set":"tx","mu":-7,"pi":-4.5,"v":1.5,"major":0},{"set":"tx","mu":-7,"pi":-4,"v":1.5,"major":1,"exp":"-4"},{"set":"tx","mu":-7,"pi":-3.5,"v":1.5,"major":0},{"set":"tx","mu":-7,"pi":-3,"v":1.5,"major":1,"exp":"-3"},{"set":"tx","mu":-7,"pi":-2.5,"v":1.5,"major":0},{"set":"tx","mu":-7,"pi":-2,"v":1.5,"major":1,"exp":"-2"},{"set":"tx","mu":-7,"pi":-1.5,"v":1.5,"major":0},{"set":"tx","mu":-7,"pi":-1,"v":1.5,"major":1,"exp":"-1"},{"set":"tx","mu":-7,"pi":-0.5,"v":1.5,"major":0},{"set":"tx","mu":-7,"pi":0,"v":1.5,"major":1,"exp":"0"},{"set":"tx","mu":-7,"pi":0.5,"v":1.5,"major":0},{"set":"tx","mu":-7,"pi":1,"v":1.5,"major":1,"exp":"1"},

{"set":"tMu","mu":-3,"pi":-7,"v":1.5,"label":"σ"},
{"set":"sMu","mu":-3,"pi":-7,"v":1.5,"label":"μ"},
{"set":"uMu","mu":-3,"pi":-7,"v":1.5,"label":"(eV)"},
{"set":"tPi","mu":-7,"pi":-3,"v":1.5,"label":"σ"},
{"set":"sPi","mu":-7,"pi":-3,"v":1.5,"label":"π"},
{"set":"uPi","mu":-7,"pi":-3,"v":1.5,"label":"(eV)"},
{"set":"tZ","mu":1,"pi":-7,"v":1.5,"label":"Maximum virtuality (eV"},
{"set":"tZ2","mu":1,"pi":-7,"v":1.5,"label":"2"},
{"set":"tZ3","mu":1,"pi":-7,"v":1.5,"label":")"}
]},
"transform":[
{"calculate":"(datum.mu+7)/8","as":"a"},
{"calculate":"(datum.pi+7)/8","as":"b"},
{"calculate":"(datum.v-1.5)/7.97","as":"w"},
{"calculate":"414-318*datum.a+392*datum.b","as":"sx"},
{"calculate":"711-130*datum.a-106*datum.b-480*datum.w+4*datum.a*datum.w+3*datum.b*datum.w","as":"sy"}
],
"encoding":{
"x":{"field":"sx","type":"quantitative","axis":null,"scale":{"domain":[0,830],"nice":false,"zero":false}},
"y":{"field":"sy","type":"quantitative","axis":null,"scale":{"domain":[765,0],"nice":false,"zero":false}}
},
"layer":[
{"transform":[{"filter":"datum.set==='bb'"}],"mark":{"type":"line","color":"#1a1a1a","strokeWidth":1.4},"encoding":{"detail":{"field":"id"},"order":{"field":"i"}}},
{"transform":[{"filter":"datum.set==='b'"}],"mark":{"type":"line","interpolate":"linear-closed","strokeWidth":0.7},"encoding":{"detail":{"field":"d"},"order":{"field":"i"},
 "fill":{"field":"d","type":"quantitative","legend":null,"scale":{"domain":[0.55,0.37,0.265,0.16,0.06,0,-0.13,-0.3],"range":["#2f5f48","#466e5a","#64967a","#82d296","#96ebaa","#aaf0b4","#befac3","#d0fcd0"],"clamp":true}},
 "stroke":{"field":"d","type":"quantitative","legend":null,"scale":{"domain":[0.55,0.37,0.265,0.16,0.06,0,-0.13,-0.3],"range":["#2f5f48","#466e5a","#64967a","#82d296","#96ebaa","#aaf0b4","#befac3","#d0fcd0"],"clamp":true}}}},
{"transform":[{"filter":"datum.set==='g'"}],"mark":{"type":"line","color":"#2a2a50","strokeWidth":1.6,"opacity":0.3,"interpolate":"catmull-rom"},"encoding":{"detail":{"field":"mu"},"order":{"field":"pi"}}},
{"transform":[{"filter":"datum.set==='h'"}],"mark":{"type":"line","color":"#2a2a50","strokeWidth":1.6,"opacity":0.3,"interpolate":"catmull-rom"},"encoding":{"detail":{"field":"pi"},"order":{"field":"mu"}}},
{"transform":[{"filter":"datum.set==='bf'"}],"mark":{"type":"line","color":"#1a1a1a","strokeWidth":1.4},"encoding":{"detail":{"field":"id"},"order":{"field":"i"}}},
{"transform":[{"filter":"datum.set==='tz'"},{"calculate":"datum.sx-(datum.major?17:10)","as":"ex"}],"mark":{"type":"rule","color":"#333333","strokeWidth":1.4},"encoding":{"x2":{"field":"ex"}}},
{"transform":[{"filter":"datum.set==='tx'"},{"calculate":"datum.sy+(datum.major?19:10)","as":"ey"}],"mark":{"type":"rule","color":"#333333","strokeWidth":1.4},"encoding":{"y2":{"field":"ey"}}},
{"transform":[{"filter":"datum.set==='tz'&&datum.exp!=null"},{"calculate":"'10'","as":"ten"}],"mark":{"type":"text","font":"Liberation Serif","fontSize":20,"color":"#222222","align":"right","baseline":"alphabetic","dx":-26.5,"dy":14},"encoding":{"text":{"field":"ten"}}},
{"transform":[{"filter":"datum.set==='tz'&&datum.exp!=null"}],"mark":{"type":"text","font":"Liberation Serif","fontSize":15,"color":"#222222","align":"left","baseline":"alphabetic","dx":-26,"dy":0},"encoding":{"text":{"field":"exp"}}},
{"transform":[{"filter":"datum.set==='tx'&&datum.exp!=null"},{"calculate":"'10'","as":"ten"},{"calculate":"datum.sx+(toNumber(datum.exp)<0?7.5:12)","as":"lx"}],"mark":{"type":"text","font":"Liberation Serif","fontSize":20,"color":"#222222","align":"right","baseline":"alphabetic","dy":52},"encoding":{"x":{"field":"lx","type":"quantitative"},"text":{"field":"ten"}}},
{"transform":[{"filter":"datum.set==='tx'&&datum.exp!=null"},{"calculate":"datum.sx+(toNumber(datum.exp)<0?8:12.5)","as":"lx"}],"mark":{"type":"text","font":"Liberation Serif","fontSize":15,"color":"#222222","align":"left","baseline":"alphabetic","dy":38},"encoding":{"x":{"field":"lx","type":"quantitative"},"text":{"field":"exp"}}},
{"transform":[{"filter":"datum.set==='tMu'"}],"mark":{"type":"text","font":"Liberation Serif","fontStyle":"italic","fontSize":34,"color":"#111111","align":"left","baseline":"alphabetic","dx":-92,"dy":97},"encoding":{"text":{"field":"label"}}},
{"transform":[{"filter":"datum.set==='sMu'"}],"mark":{"type":"text","font":"Liberation Serif","fontStyle":"italic","fontSize":24,"color":"#111111","align":"left","baseline":"alphabetic","dx":-75,"dy":102},"encoding":{"text":{"field":"label"}}},
{"transform":[{"filter":"datum.set==='uMu'"}],"mark":{"type":"text","font":"Liberation Serif","fontSize":32,"color":"#111111","align":"left","baseline":"alphabetic","dx":-52,"dy":97},"encoding":{"text":{"field":"label"}}},
{"transform":[{"filter":"datum.set==='tPi'"}],"mark":{"type":"text","font":"Liberation Serif","fontStyle":"italic","fontSize":34,"color":"#111111","align":"left","baseline":"alphabetic","dx":-25,"dy":85},"encoding":{"text":{"field":"label"}}},
{"transform":[{"filter":"datum.set==='sPi'"}],"mark":{"type":"text","font":"Liberation Serif","fontStyle":"italic","fontSize":24,"color":"#111111","align":"left","baseline":"alphabetic","dx":-7,"dy":92},"encoding":{"text":{"field":"label"}}},
{"transform":[{"filter":"datum.set==='uPi'"}],"mark":{"type":"text","font":"Liberation Serif","fontSize":32,"color":"#111111","align":"left","baseline":"alphabetic","dx":13,"dy":85},"encoding":{"text":{"field":"label"}}},
{"transform":[{"filter":"datum.set==='tZ'"}],"mark":{"type":"text","font":"Liberation Serif","fontSize":35,"color":"#111111","align":"left","baseline":"alphabetic","angle":270,"dx":46,"dy":-59},"encoding":{"text":{"field":"label"}}},
{"transform":[{"filter":"datum.set==='tZ2'"}],"mark":{"type":"text","font":"Liberation Serif","fontSize":22,"color":"#111111","align":"left","baseline":"alphabetic","angle":270,"dx":393,"dy":-76},"encoding":{"text":{"field":"label"}}},
{"transform":[{"filter":"datum.set==='tZ3'"}],"mark":{"type":"text","font":"Liberation Serif","fontSize":35,"color":"#111111","align":"left","baseline":"alphabetic","angle":270,"dx":413,"dy":-59},"encoding":{"text":{"field":"label"}}}
]}
